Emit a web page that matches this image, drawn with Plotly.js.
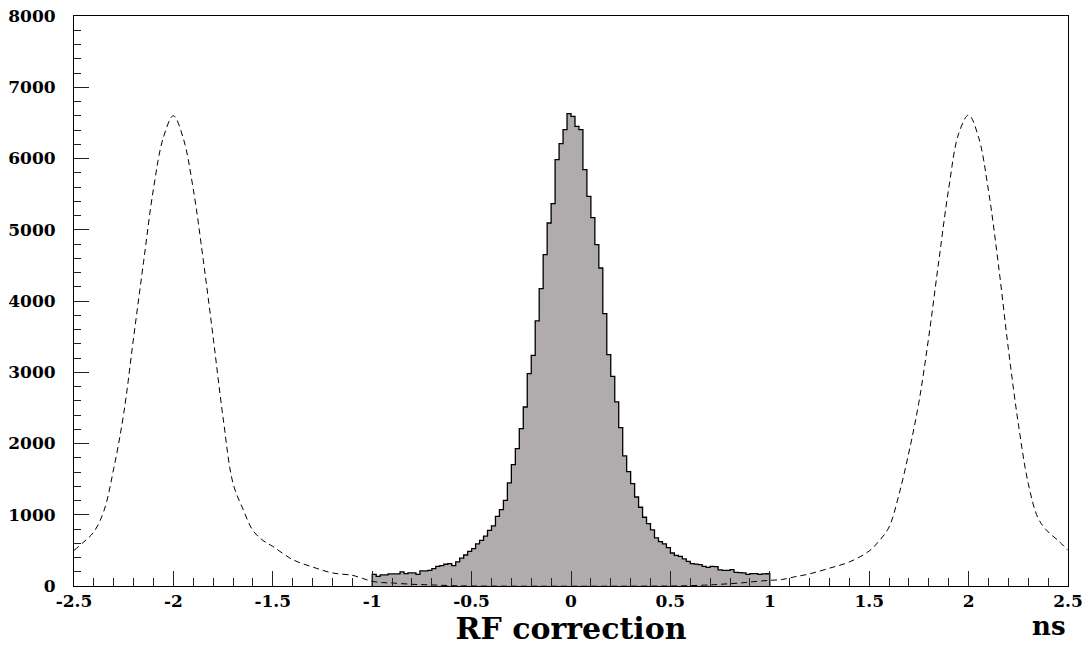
<!DOCTYPE html>
<html>
<head>
<meta charset="utf-8">
<script src="https://cdn.plot.ly/plotly-3.0.1.min.js"></script>
<style>
  html, body { margin: 0; padding: 0; background: #ffffff; }
  #chart { width: 1090px; height: 647px; }
</style>
</head>
<body>
<div id="chart"></div>
<script>
// Histogram: 100 bins of width 0.02 ns from -1 to 1
const binLow = -1.0;
const binWidth = 0.02;
const counts = [
  164, 136, 155, 155, 169, 169, 169, 197, 174, 183,
  183, 164, 211, 211, 220, 244, 276, 286, 305, 314,
  286, 340, 390, 435, 485, 525, 590, 640, 700, 782,
  845, 978, 1072, 1203, 1446, 1704, 1928, 2209, 2512, 2981,
  3238, 3720, 4174, 4651, 5095, 5367, 5984, 6209, 6405, 6630,
  6592, 6452, 6405, 5844, 5469, 5170, 4791, 4463, 3823, 3247,
  2943, 2583, 2223, 1825, 1605, 1437, 1249, 1105, 965, 876,
  787, 675, 622, 590, 540, 463, 431, 415, 380, 345,
  314, 308, 300, 275, 262, 276, 272, 225, 220, 220,
  230, 190, 188, 183, 164, 174, 174, 164, 169, 172
];

// Dashed (shifted copies) curve
const dashedX = [
  -2.5, -2.45, -2.4, -2.35, -2.3, -2.25, -2.2, -2.15, -2.1, -2.05, -2.0,
  -1.95, -1.9, -1.85, -1.8, -1.75, -1.7, -1.65, -1.6, -1.55, -1.5,
  -1.4, -1.3, -1.2, -1.1, -1.05, -1.0, -0.95, -0.9, -0.8, -0.7, -0.6, -0.5,
  0.5, 0.6, 0.7, 0.75, 0.85, 0.92, 1.0, 1.06, 1.12, 1.2, 1.3, 1.4,
  1.5, 1.55, 1.6, 1.65, 1.7, 1.75, 1.8, 1.85, 1.9, 1.95, 2.0,
  2.05, 2.1, 2.15, 2.2, 2.25, 2.3, 2.35, 2.4, 2.45, 2.5
];
const dashedY = [
  500, 620, 760, 1050, 1650, 2420, 3490, 4550, 5580, 6300, 6600,
  6280, 5570, 4580, 3490, 2360, 1440, 1080, 780, 640, 555,
  370, 267, 183, 150, 108, 66, 48, 42, 24, 15, 5, 0,
  0, 5, 15, 24, 42, 61, 80, 90, 126, 170, 250, 337,
  492, 632, 828, 1287, 1880, 2580, 3505, 4560, 5580, 6350, 6610,
  6300, 5550, 4510, 3330, 2280, 1440, 950, 760, 640, 500
];

const xTickVals = [-2.5, -2, -1.5, -1, -0.5, 0, 0.5, 1, 1.5, 2, 2.5];
const xTickText = ["-2.5", "-2", "-1.5", "-1", "-0.5", "0", "0.5", "1", "1.5", "2", "2.5"];
const yTickVals = [0, 1000, 2000, 3000, 4000, 5000, 6000, 7000, 8000];
const yTickText = ["0", "1000", "2000", "3000", "4000", "5000", "6000", "7000", "8000"];

// Build step outline from bin edges
const stepX = [binLow];
const stepY = [0];
for (let k = 0; k < counts.length; k++) {
  stepX.push(binLow + k * binWidth);
  stepY.push(counts[k]);
}
stepX.push(binLow + counts.length * binWidth);
stepY.push(counts[counts.length - 1]);
stepX.push(binLow + counts.length * binWidth);
stepY.push(0);

const FONT = "DejaVu Serif, Liberation Serif, serif";

const traces = [
  {
    type: "scatter",
    mode: "lines",
    x: stepX,
    y: stepY,
    line: { shape: "hv", color: "#000000", width: 1.3 },
    fill: "tozeroy",
    fillcolor: "#b0acad",
    hoverinfo: "skip",
    showlegend: false
  },
  {
    type: "scatter",
    mode: "lines",
    x: dashedX,
    y: dashedY,
    line: { shape: "spline", smoothing: 1, color: "#000000", width: 1, dash: "6px,4px" },
    hoverinfo: "skip",
    showlegend: false
  }
];

const layout = {
  width: 1090,
  height: 647,
  margin: { l: 74, r: 22, t: 16, b: 61 },
  paper_bgcolor: "#ffffff",
  plot_bgcolor: "#ffffff",
  showlegend: false,
  xaxis: {
    range: [-2.5, 2.5],
    tickmode: "array",
    tickvals: xTickVals,
    ticktext: xTickText,
    ticks: "inside",
    ticklen: 15,
    tickwidth: 1,
    tickcolor: "#222222",
    minor: { dtick: 0.1, ticks: "inside", ticklen: 8, tickwidth: 1, tickcolor: "#222222", showgrid: false },
    showgrid: false,
    zeroline: false,
    showline: true,
    linecolor: "#000000",
    linewidth: 1,
    mirror: true,
    tickfont: { family: FONT, size: 17, weight: "bold", color: "#000000" },
    title: {
      text: "RF correction",
      font: { family: FONT, size: 30, weight: "bold", color: "#000000" },
      standoff: 4
    }
  },
  yaxis: {
    range: [0, 8000],
    tickmode: "array",
    tickvals: yTickVals,
    ticktext: yTickText,
    ticks: "inside",
    ticklen: 15,
    tickwidth: 1,
    tickcolor: "#222222",
    minor: { dtick: 200, ticks: "inside", ticklen: 7, tickwidth: 1, tickcolor: "#222222", showgrid: false },
    showgrid: false,
    zeroline: false,
    showline: true,
    linecolor: "#000000",
    linewidth: 1,
    mirror: true,
    ticklabelstandoff: 14,
    tickfont: { family: FONT, size: 17, weight: "bold", color: "#000000" }
  },
  annotations: [
    {
      text: "ns",
      xref: "paper",
      yref: "paper",
      x: 1.0,
      y: -0.041,
      xanchor: "right",
      yanchor: "top",
      showarrow: false,
      font: { family: FONT, size: 26, weight: "bold", color: "#000000" }
    }
  ]
};

Plotly.newPlot("chart", traces, layout, { staticPlot: true, displayModeBar: false });
</script>
</body>
</html>
